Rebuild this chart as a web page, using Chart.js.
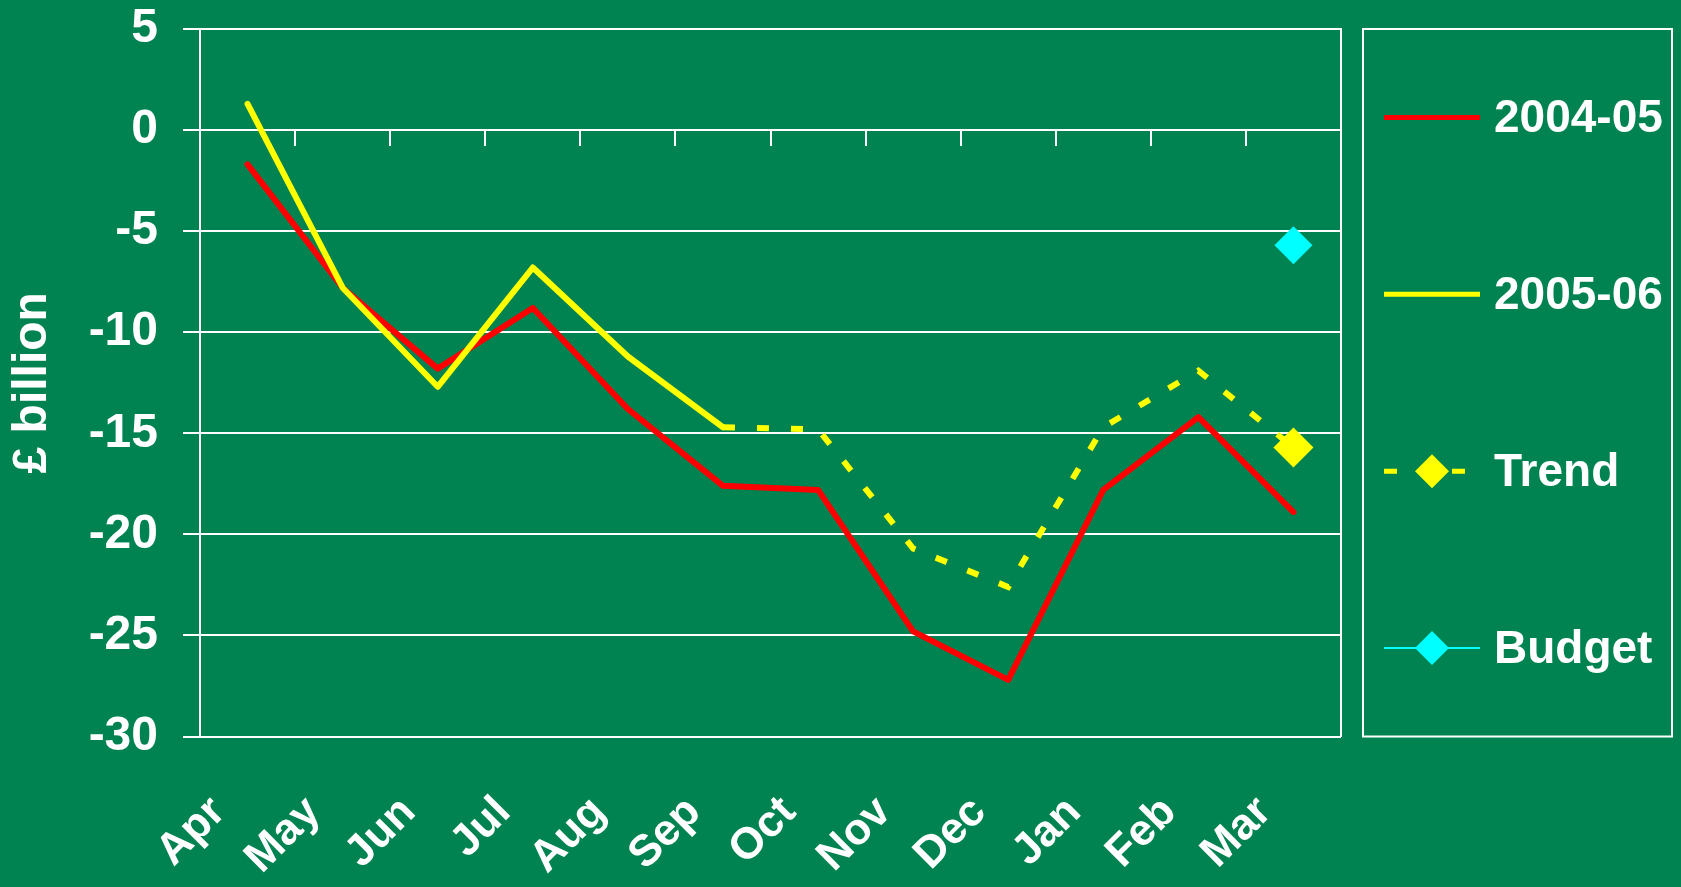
<!DOCTYPE html>
<html>
<head>
<meta charset="utf-8">
<script src="https://cdn.jsdelivr.net/npm/chart.js@4.4.1/dist/chart.umd.min.js"></script>
<style>
  html, body { margin: 0; padding: 0; background: #008350; }
  #wrap { width: 1681px; height: 887px; }
</style>
</head>
<body>
<div id="wrap"><canvas id="c" width="1681" height="887"></canvas></div>
<script>
// ---- data ----
const months = ['Apr', 'May', 'Jun', 'Jul', 'Aug', 'Sep', 'Oct', 'Nov', 'Dec', 'Jan', 'Feb', 'Mar'];
const fy0405 = [-1.7, -7.8, -11.8, -8.8, -13.8, -17.6, -17.8, -24.8, -27.2, -17.8, -14.2, -18.9];
const fy0506 = [1.3, -7.8, -12.7, -6.8, -11.2, -14.7, null, null, null, null, null, null];
const trend = [null, null, null, null, null, -14.7, -14.8, -20.7, -22.6, -14.7, -11.9, -15.7];
const budget = [null, null, null, null, null, null, null, null, null, null, null, -5.7];
const yTicks = [5, 0, -5, -10, -15, -20, -25, -30];
const seriesNames = ['2004-05', '2005-06', 'Trend', 'Budget'];

const BG = '#008350';
const FONT = '"Liberation Sans", Arial, sans-serif';

const bgPlugin = {
  id: 'bg',
  beforeDraw(chart) {
    const ctx = chart.ctx;
    ctx.save();
    ctx.fillStyle = BG;
    ctx.fillRect(0, 0, chart.width, chart.height);
    ctx.restore();
  }
};

function diamond(ctx, x, y, r, color) {
  ctx.beginPath();
  ctx.moveTo(x - r, y);
  ctx.lineTo(x, y - r);
  ctx.lineTo(x + r, y);
  ctx.lineTo(x, y + r);
  ctx.closePath();
  ctx.fillStyle = color;
  ctx.fill();
}

const sideLegend = {
  id: 'sideLegend',
  afterDraw(chart) {
    const ctx = chart.ctx;
    const a = chart.chartArea;
    const left = a.right + 22;
    const right = chart.width - 9;
    const top = a.top, bottom = a.bottom;
    ctx.save();
    ctx.strokeStyle = '#ffffff';
    ctx.lineWidth = 2;
    ctx.strokeRect(left, top, right - left, bottom - top);
    const ds = chart.data.datasets;
    const n = ds.length;
    const h = (bottom - top) / n;
    ds.forEach((d, i) => {
      const cy = top + h * (i + 0.5);
      const x0 = left + 21, x1 = left + 117, xm = (x0 + x1) / 2;
      ctx.save();
      ctx.strokeStyle = d.borderColor;
      ctx.lineWidth = d.legendLineWidth;
      ctx.lineCap = 'butt';
      ctx.setLineDash(d.borderDash ? [13, 21] : []);
      ctx.beginPath();
      ctx.moveTo(x0, cy);
      ctx.lineTo(x1, cy);
      ctx.stroke();
      ctx.restore();
      if (d.legendMarker) diamond(ctx, xm, cy, 17, d.pointBackgroundColor);
      ctx.fillStyle = '#ffffff';
      ctx.font = 'bold 46px ' + FONT;
      ctx.textBaseline = 'middle';
      ctx.textAlign = 'left';
      ctx.fillText(d.label, left + 131, cy + 2);
    });
    ctx.restore();
  }
};

const lastOnly = (r) => (c) => (c.dataIndex === months.length - 1 ? r : 0);

new Chart(document.getElementById('c'), {
  type: 'line',
  data: {
    labels: months,
    datasets: [
      { label: seriesNames[0], data: fy0405, borderColor: '#ff0000', backgroundColor: '#ff0000',
        borderWidth: 6, pointRadius: 0, borderCapStyle: 'round', borderJoinStyle: 'round',
        order: 4, legendLineWidth: 5 },
      { label: seriesNames[1], data: fy0506, borderColor: '#ffff00', backgroundColor: '#ffff00',
        borderWidth: 6, pointRadius: 0, borderCapStyle: 'round', borderJoinStyle: 'round',
        order: 3, legendLineWidth: 5 },
      { label: seriesNames[2], data: trend, borderColor: '#ffff00', backgroundColor: '#ffff00',
        borderWidth: 6, borderDash: [12, 22], pointStyle: 'rectRot', pointRadius: lastOnly(20),
        pointBackgroundColor: '#ffff00', pointBorderWidth: 0, pointHoverRadius: 0,
        order: 2, legendLineWidth: 5, legendMarker: true },
      { label: seriesNames[3], data: budget, borderColor: '#00ffff', backgroundColor: '#00ffff',
        borderWidth: 2, pointStyle: 'rectRot', pointRadius: lastOnly(19),
        pointBackgroundColor: '#00ffff', pointBorderWidth: 0, pointHoverRadius: 0,
        order: 1, legendLineWidth: 2, legendMarker: true }
    ]
  },
  options: {
    responsive: false,
    animation: false,
    events: [],
    layout: { padding: { left: 0, right: 340, top: 29, bottom: 0 } },
    plugins: { legend: { display: false }, tooltip: { enabled: false } },
    scales: {
      x: {
        type: 'category',
        offset: true,
        position: 'bottom',
        grid: { display: false, drawTicks: false },
        border: { display: false },
        ticks: {
          color: '#ffffff',
          font: { family: FONT, size: 44, weight: 'bold' },
          minRotation: 45, maxRotation: 45,
          padding: 50,
          labelOffset: -29,
          autoSkip: false
        },
        afterFit(s) {
          s.height = 150.5;
          s.paddingLeft = 0; s.paddingRight = 0; s.paddingTop = 0; s.paddingBottom = 0;
        }
      },
      x2: {
        type: 'category',
        offset: true,
        position: { y: 0 },
        grid: { offset: true, drawOnChartArea: false, drawTicks: true, tickLength: 16, color: '#ffffff', lineWidth: 2 },
        border: { display: false },
        ticks: { display: false },
        afterFit(s) { s.paddingLeft = 0; s.paddingRight = 0; s.paddingTop = 0; s.paddingBottom = 0; }
      },
      y: {
        type: 'linear',
        min: -30, max: 5,
        afterBuildTicks(scale) { scale.ticks = yTicks.map(v => ({ value: v })); },
        grid: { color: '#ffffff', lineWidth: 2, tickLength: 17, drawTicks: true },
        border: { display: true, color: '#ffffff', width: 2 },
        ticks: {
          color: '#ffffff',
          padding: 25,
          font: { family: FONT, size: 48, weight: 'bold' }
        },
        title: {
          display: true,
          text: '£ billion',
          color: '#ffffff',
          font: { family: FONT, size: 48, weight: 'bold', lineHeight: 1.2 },
          padding: { top: 4, bottom: 27 }
        },
        afterFit(s) {
          s.width = 200;
          s.paddingTop = 0; s.paddingBottom = 0;
        }
      },
      y2: {
        type: 'linear',
        position: 'right',
        min: -30, max: 5,
        grid: { drawOnChartArea: false, drawTicks: false },
        border: { display: true, color: '#ffffff', width: 2 },
        ticks: { display: false },
        afterFit(s) { s.width = 0; s.paddingTop = 0; s.paddingBottom = 0; }
      }
    }
  },
  plugins: [bgPlugin, sideLegend]
});
</script>
</body>
</html>
